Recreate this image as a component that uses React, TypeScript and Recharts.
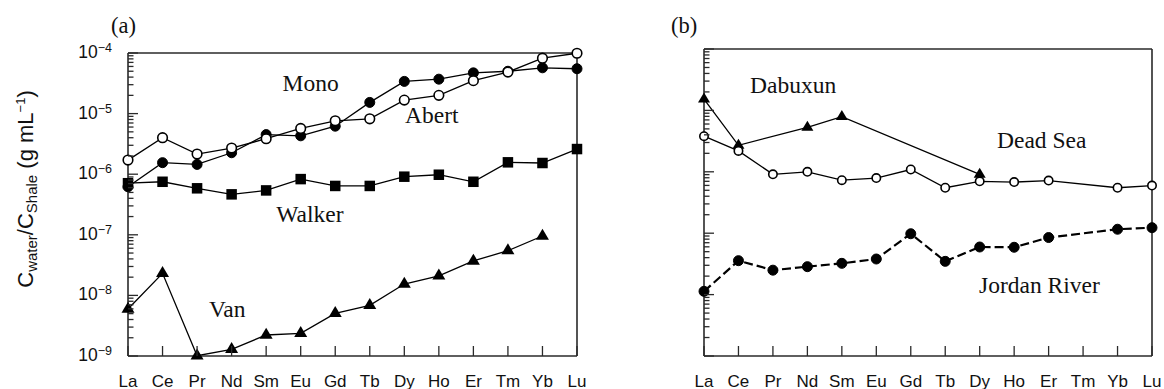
import React from 'react';
import { LineChart, Line, XAxis, YAxis, ReferenceLine } from 'recharts';

// ---------- data ----------
const elements = ['La', 'Ce', 'Pr', 'Nd', 'Sm', 'Eu', 'Gd', 'Tb', 'Dy', 'Ho', 'Er', 'Tm', 'Yb', 'Lu'];

// panel (a)
const mono = [6.2e-7, 1.55e-6, 1.45e-6, 2.26e-6, 4.5e-6, 4.3e-6, 6.2e-6, 1.53e-5, 3.4e-5, 3.7e-5, 4.7e-5, 5.0e-5, 5.7e-5, 5.5e-5];
const abert = [1.71e-6, 4.0e-6, 2.15e-6, 2.7e-6, 3.85e-6, 5.7e-6, 7.6e-6, 8.2e-6, 1.67e-5, 2.0e-5, 3.5e-5, 4.85e-5, 8.2e-5, 9.9e-5];
const walker = [7.1e-7, 7.5e-7, 5.85e-7, 4.65e-7, 5.4e-7, 8.3e-7, 6.4e-7, 6.4e-7, 9.1e-7, 9.8e-7, 7.5e-7, 1.57e-6, 1.53e-6, 2.6e-6];
const van = [5.97e-9, 2.31e-8, 1.01e-9, 1.29e-9, 2.22e-9, 2.37e-9, 5.06e-9, 6.86e-9, 1.54e-8, 2.1e-8, 3.7e-8, 5.47e-8, 9.55e-8, null];

// panel (b)
const dabuxun = [1.53e-5, 2.7e-6, null, 5.3e-6, 7.9e-6, null, null, null, 9.1e-7, null, null, null, null, null];
const deadSea = [3.8e-6, 2.19e-6, 9.1e-7, 1.0e-6, 7.3e-7, 7.9e-7, 1.09e-6, 5.5e-7, 7.0e-7, 6.8e-7, 7.2e-7, null, 5.5e-7, 5.97e-7];
const jordan = [1.13e-8, 3.57e-8, 2.5e-8, 2.85e-8, 3.23e-8, 3.8e-8, 9.8e-8, 3.48e-8, 5.96e-8, 5.9e-8, 8.5e-8, null, 1.16e-7, 1.23e-7];

// axis
const yDomain: [number, number] = [1e-9, 1e-4];
const decadeExponents = [-9, -8, -7, -6, -5, -4];
const minorMultipliers = [2, 3, 4, 5, 6, 7, 8, 9];
const yTicks: number[] = [];
decadeExponents.forEach((e) => {
  yTicks.push(Math.pow(10, e));
  if (e < -4) minorMultipliers.forEach((m) => yTicks.push(m * Math.pow(10, e)));
});

const dataA = elements.map((el, i) => ({ el, mono: mono[i], abert: abert[i], walker: walker[i], van: van[i] }));
const dataB = elements.map((el, i) => ({ el, dabuxun: dabuxun[i], deadSea: deadSea[i], jordan: jordan[i] }));

// ---------- styling ----------
const SANS = '"Liberation Sans", Arial, sans-serif';
const SERIF = '"Liberation Serif", "Times New Roman", serif';
const FRAME = '#2a2a2a';
const LINE = '#000';

// ---------- markers ----------
const filledCircle = (r: number) => (p: any) => {
  const { cx, cy, index } = p;
  if (cx == null || cy == null || p.value == null) return <g key={index} />;
  return <circle key={index} cx={cx} cy={cy} r={r} fill="#000" stroke="#000" strokeWidth={1} />;
};
const openCircle = (r: number) => (p: any) => {
  const { cx, cy, index } = p;
  if (cx == null || cy == null || p.value == null) return <g key={index} />;
  return <circle key={index} cx={cx} cy={cy} r={r} fill="#fff" stroke="#000" strokeWidth={1.6} />;
};
const square = (s: number) => (p: any) => {
  const { cx, cy, index } = p;
  if (cx == null || cy == null || p.value == null) return <g key={index} />;
  return <rect key={index} x={cx - s / 2} y={cy - s / 2} width={s} height={s} fill="#000" />;
};
const triangle = (w: number, h: number) => (p: any) => {
  const { cx, cy, index } = p;
  if (cx == null || cy == null || p.value == null) return <g key={index} />;
  const top = cy - (h * 2) / 3;
  const bot = cy + h / 3;
  return <polygon key={index} points={`${cx},${top} ${cx + w / 2},${bot} ${cx - w / 2},${bot}`} fill="#000" />;
};

// ---------- ticks ----------
const isDecade = (v: number) => Math.abs(Math.log10(v) - Math.round(Math.log10(v))) < 1e-6;

const makeYTick = (showLabels: boolean) => (p: any) => {
  const { x, y, payload, index } = p;
  const v = payload.value as number;
  const major = isDecade(v);
  const len = major ? 10 : 5.5;
  const exp = Math.round(Math.log10(v));
  return (
    <g key={index}>
      <line x1={x} x2={x + len} y1={y} y2={y} stroke={FRAME} strokeWidth={1.3} />
      {showLabels && major && (
        <text x={x - 16} y={y + 5} textAnchor="end" fontFamily={SANS} fontSize={17.5} fill="#111">
          10
          <tspan fontSize={12.5} dy={-6}>{'\u2212' + Math.abs(exp)}</tspan>
        </text>
      )}
    </g>
  );
};

const XTick = (p: any) => {
  const { x, y, payload, index } = p;
  return (
    <g key={index}>
      <line x1={x} x2={x} y1={y} y2={y - 10} stroke={FRAME} strokeWidth={1.3} />
      <text x={x} y={y + 30.5} textAnchor="middle" fontFamily={SANS} fontSize={17} fill="#111">
        {payload.value}
      </text>
    </g>
  );
};

const frameLine = { stroke: FRAME, strokeWidth: 1.6 };

export default function App() {
  return (
    <div style={{ position: 'absolute', left: 0, top: 0, width: 1164, height: 389, background: '#fff', overflow: 'hidden' }}>
      {/* Panel (a) */}
      <div style={{ position: 'absolute', left: 0, top: 0 }}>
        <LineChart width={600} height={389} data={dataA} margin={{ top: 53, right: 23, bottom: 0, left: 68 }}>
          <XAxis
            dataKey="el"
            interval={0}
            height={33}
            tickLine={false}
            tickSize={0}
            tickMargin={0}
            tick={XTick}
            axisLine={frameLine}
          />
          <YAxis
            type="number"
            scale="log"
            domain={yDomain}
            ticks={yTicks}
            interval={0}
            width={60}
            tickLine={false}
            tickSize={0}
            tickMargin={0}
            tick={makeYTick(true)}
            axisLine={frameLine}
          />
          <ReferenceLine y={1e-4} stroke={FRAME} strokeWidth={1.6} />
          <ReferenceLine x="Lu" stroke={FRAME} strokeWidth={1.6} />
          <Line dataKey="walker" stroke={LINE} strokeWidth={1.3} dot={square(10.5)} isAnimationActive={false} connectNulls />
          <Line dataKey="van" stroke={LINE} strokeWidth={1.3} dot={triangle(13, 11)} isAnimationActive={false} connectNulls />
          <Line dataKey="mono" stroke={LINE} strokeWidth={1.3} dot={filledCircle(5)} isAnimationActive={false} connectNulls />
          <Line dataKey="abert" stroke={LINE} strokeWidth={1.3} dot={openCircle(4.8)} isAnimationActive={false} connectNulls />
        </LineChart>
      </div>

      {/* Panel (b) */}
      <div style={{ position: 'absolute', left: 600, top: 0 }}>
        <LineChart width={564} height={389} data={dataB} margin={{ top: 49, right: 12, bottom: 0, left: 44 }}>
          <XAxis
            dataKey="el"
            interval={0}
            height={33}
            tickLine={false}
            tickSize={0}
            tickMargin={0}
            tick={XTick}
            axisLine={frameLine}
          />
          <YAxis
            type="number"
            scale="log"
            domain={yDomain}
            ticks={yTicks}
            interval={0}
            width={60}
            tickLine={false}
            tickSize={0}
            tickMargin={0}
            tick={makeYTick(false)}
            axisLine={frameLine}
          />
          <ReferenceLine y={1e-4} stroke={FRAME} strokeWidth={1.6} />
          <ReferenceLine x="Lu" stroke={FRAME} strokeWidth={1.6} />
          <Line dataKey="jordan" stroke={LINE} strokeWidth={2.2} strokeDasharray="9 4" dot={filledCircle(5)} isAnimationActive={false} connectNulls />
          <Line dataKey="dabuxun" stroke={LINE} strokeWidth={1.3} dot={triangle(12, 10)} isAnimationActive={false} connectNulls />
          <Line dataKey="deadSea" stroke={LINE} strokeWidth={1.3} dot={openCircle(4.2)} isAnimationActive={false} connectNulls />
        </LineChart>
      </div>

      {/* Annotations */}
      <svg width={1164} height={389} style={{ position: 'absolute', left: 0, top: 0, pointerEvents: 'none' }}>
        <text
          x={33}
          y={189}
          transform="rotate(-90 33 189)"
          textAnchor="middle"
          fontFamily={SANS}
          fontSize={22}
          fill="#111"
        >
          C
          <tspan fontSize={15} dy={4}>water</tspan>
          <tspan dy={-4}>/C</tspan>
          <tspan fontSize={15} dy={4}>Shale</tspan>
          <tspan dy={-4}>{' (g mL'}</tspan>
          <tspan fontSize={13} dy={-8}>{'\u22121'}</tspan>
          <tspan dy={8}>)</tspan>
        </text>

        <g fontFamily={SERIF} fontSize={23.5} fill="#111">
          <text x={111} y={33} fontSize={22.5}>(a)</text>
          <text x={671} y={33} fontSize={22.5}>(b)</text>
          <text x={282.5} y={91}>Mono</text>
          <text x={405} y={123}>Abert</text>
          <text x={343.5} y={221.5} textAnchor="end">Walker</text>
          <text x={209} y={316.5}>Van</text>
          <text x={750} y={93}>Dabuxun</text>
          <text x={997} y={148}>Dead Sea</text>
          <text x={979} y={293}>Jordan River</text>
        </g>
      </svg>
    </div>
  );
}
